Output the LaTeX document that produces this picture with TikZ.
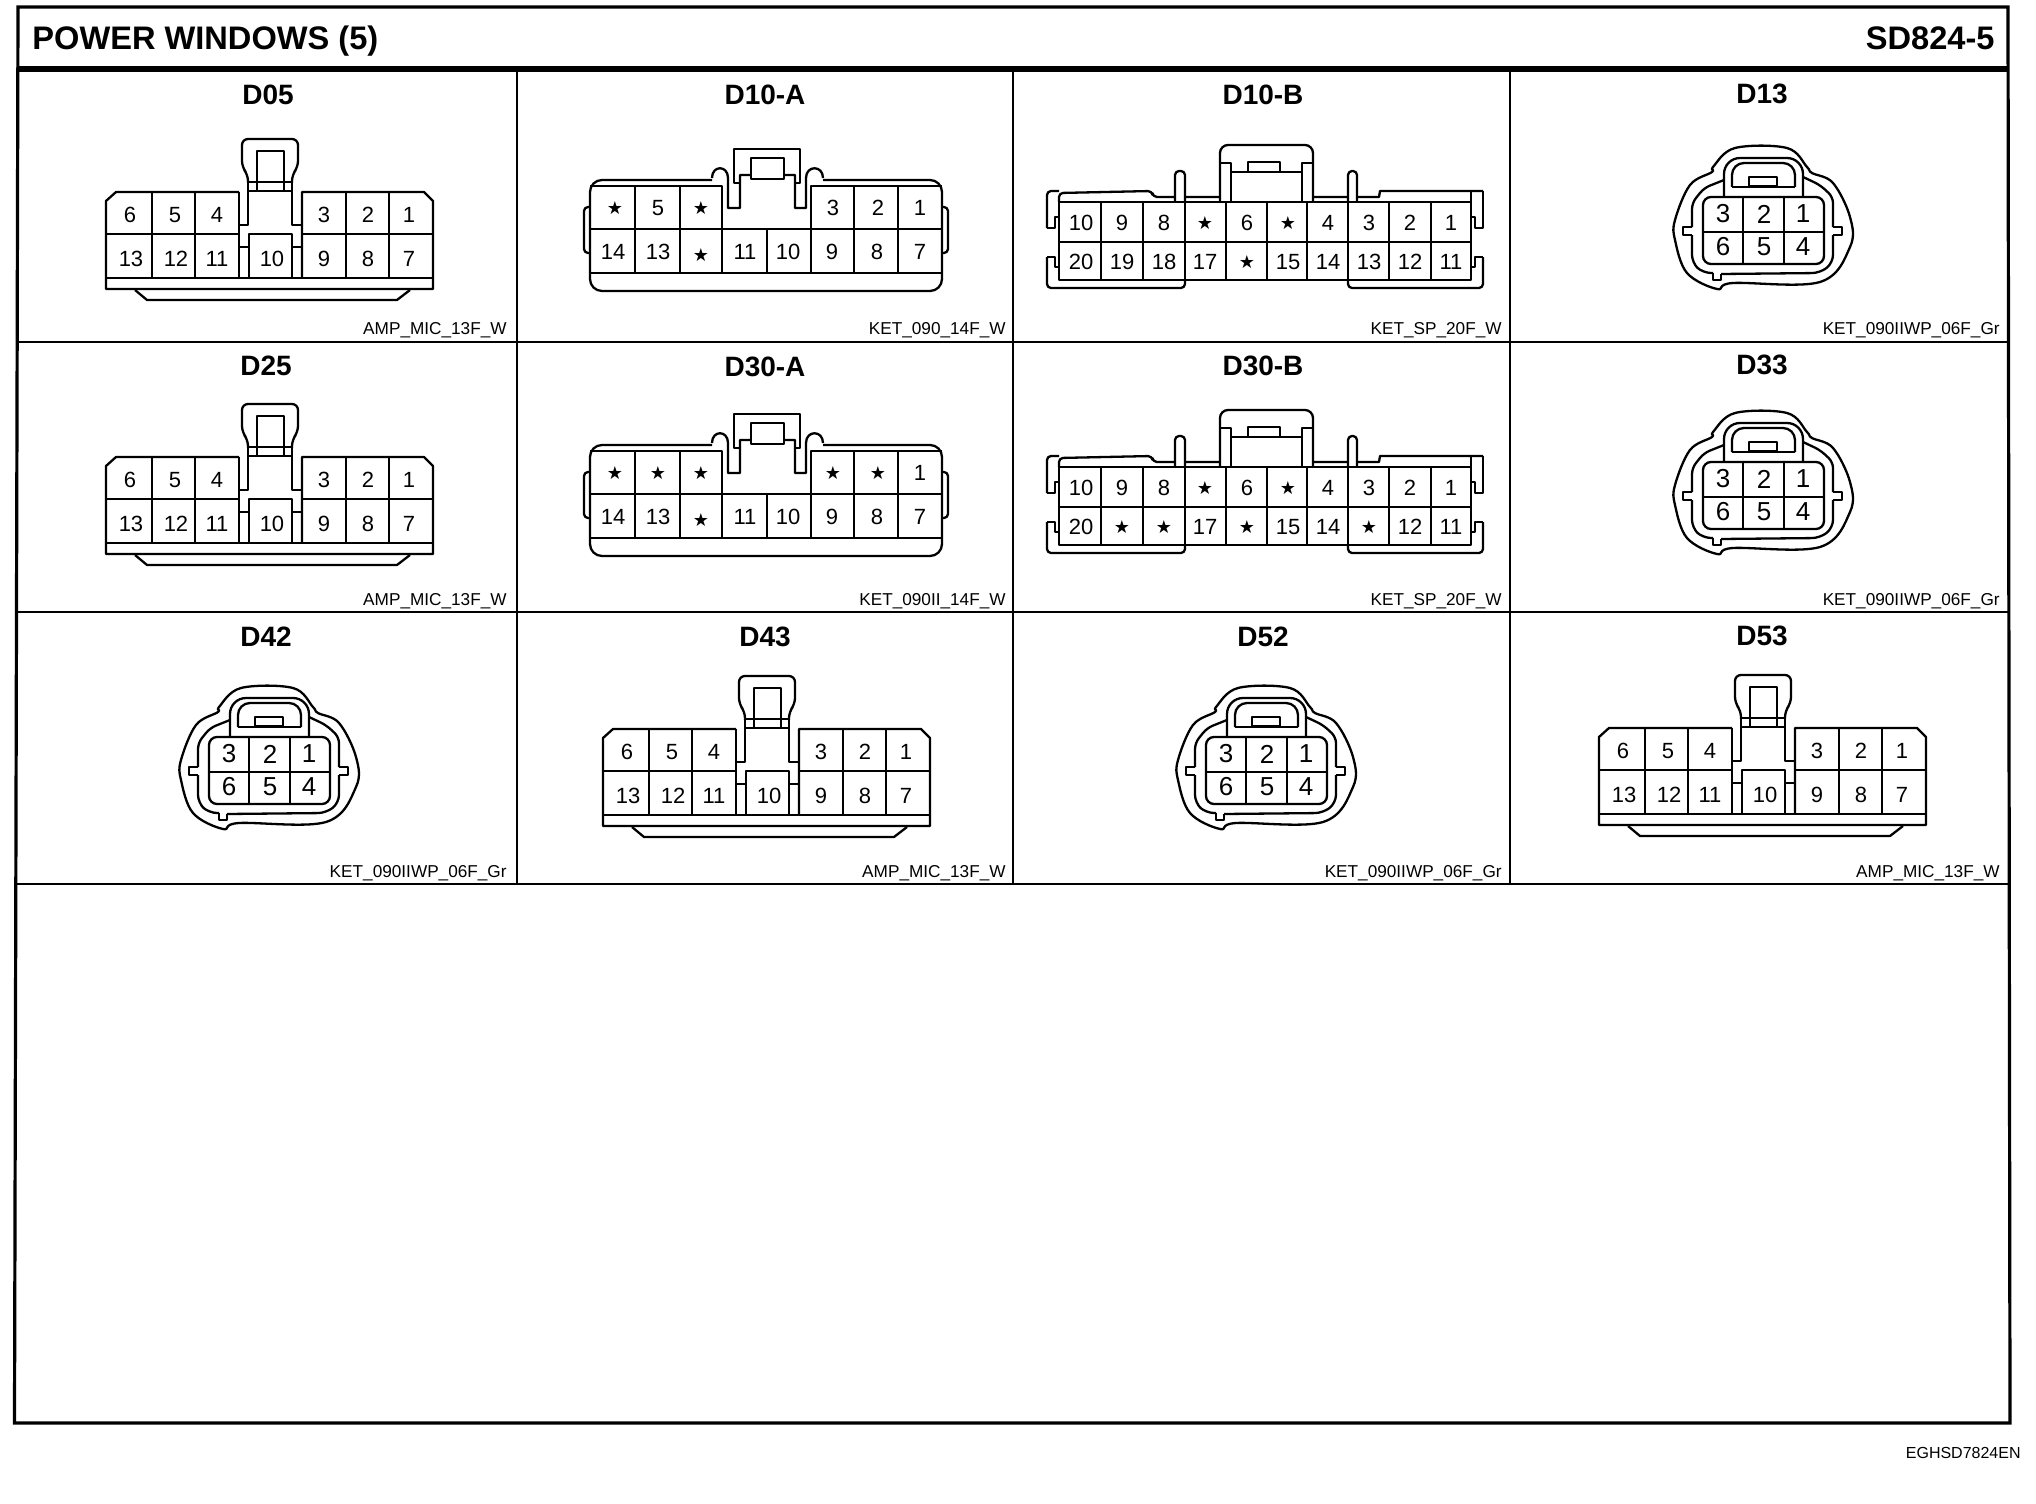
\documentclass[tikz,border=0pt]{standalone}
\usepackage{fontspec}
\setmainfont{Liberation Sans}
\newfontfamily\starfont{DejaVu Sans}
\usetikzlibrary{positioning}

\tikzset{
  frameline/.style={line width=1.6pt},
  gridline/.style={line width=1.3pt},
  conn/.style={line width=1.15pt, line join=round},
  sheettitle/.style={font=\bfseries\fontsize{16.3}{18}\selectfont, inner sep=0pt},
  conntitle/.style={font=\bfseries\fontsize{14}{16}\selectfont, inner sep=0pt},
  partlabel/.style={font=\fontsize{8.6}{10}\selectfont, inner sep=0pt, anchor=base east},
  pinlabel/.style={font=\fontsize{11}{13}\selectfont, inner sep=0pt},
  bigpin/.style={font=\fontsize{13}{15}\selectfont, inner sep=0pt},
}
\newcommand{\st}{{\starfont\fontsize{9}{10}\selectfont ★}}

% pin positions, x/y/label
\def\pinsAmp{130/215/6,175/215/5,217/215/4,324/215/3,368/215/2,409/215/1,131/259/13,176/259/12,217/259/11,272/259/10,324/259/9,368/259/8,409/259/7}
\def\pinsKetA{615/208/\st,658/208/5,701/208/\st,833/208/3,878/208/2,920/208/1,613/252/14,658/252/13,701/255/\st,745/252/11,788/252/10,832/252/9,877/252/8,920/252/7}
\def\pinsKetAs{615/208/\st,658/208/\st,701/208/\st,833/208/\st,878/208/\st,920/208/1,613/252/14,658/252/13,701/255/\st,745/252/11,788/252/10,832/252/9,877/252/8,920/252/7}
\def\pinsKetB{1081/223/10,1122/223/9,1164/223/8,1205/223/\st,1247/223/6,1288/223/\st,1328/223/4,1369/223/3,1410/223/2,1451/223/1,1081/262/20,1122/262/19,1164/262/18,1205/262/17,1247/262/\st,1288/262/15,1328/262/14,1369/262/13,1410/262/12,1451/262/11}
\def\pinsKetBs{1081/223/10,1122/223/9,1164/223/8,1205/223/\st,1247/223/6,1288/223/\st,1328/223/4,1369/223/3,1410/223/2,1451/223/1,1081/262/20,1122/262/\st,1164/262/\st,1205/262/17,1247/262/\st,1288/262/15,1328/262/14,1369/262/\st,1410/262/12,1451/262/11}
\def\pinsWp{1723/214/3,1764/214/2,1803/214/1,1723/247/6,1764/247/5,1803/247/4}

% AMP_MIC 13 pin housing
\newcommand{\ampbody}{
  \draw[conn] (239,192) -- (116,192) -- (106,201) -- (106,289) -- (433,289) -- (433,201) -- (424,192) -- (302,192) -- (302,278);
  \draw[conn] (106,234) -- (239,234) (302,234) -- (433,234) (106,278) -- (433,278);
  \foreach \cx in {152,195,239,346,389} \draw[conn] (\cx,192) -- (\cx,278);
  \draw[conn] (135,290) -- (147,300) -- (397,300) -- (410,290);
  \draw[conn] (249,278) -- (249,234) -- (292,234) -- (292,278);
  \draw[conn] (239,247) -- (249,247) (292,247) -- (302,247);
  \draw[conn] (248,183) -- (248,225) -- (239,225) (292,183) -- (292,225) -- (302,225);
  \draw[conn, rounded corners=3pt] (248,183) -- (248,175) -- (242,167) -- (242,139) -- (298,139) -- (298,167) -- (292,175) -- (292,183);
  \draw[conn] (257,190) -- (257,151) -- (284,151) -- (284,190);
  \draw[conn] (248,182) -- (292,182) (248,191) -- (292,191);
}
% KET 14 pin housing
\newcommand{\ketabody}{
  \draw[conn, rounded corners=6pt] (712,180) -- (590,180) -- (590,291) -- (942,291) -- (942,180) -- (823,180);
  \draw[conn] (590,186) -- (722,186) -- (722,273) (811,273) -- (811,186) -- (942,186);
  \draw[conn] (590,229) -- (942,229) (590,273) -- (942,273);
  \foreach \cx in {635,680,854,898} \draw[conn] (\cx,186) -- (\cx,273);
  \draw[conn] (767,229) -- (767,273);
  \draw[conn] (712,178) .. controls (712,165) and (728,165) .. (728,178) -- (728,208) -- (740,208) -- (740,175) -- (795,175) -- (795,208) -- (806,208) -- (806,178) .. controls (806,165) and (823,165) .. (823,178);
  \draw[conn] (740,183) -- (734,183) -- (734,149) -- (800,149) -- (800,183) -- (795,183);
  \draw[conn, fill=white] (751,158) rectangle (784,179);
  \draw[conn, rounded corners=2pt] (590,207) -- (584,207) -- (584,253) -- (590,253);
  \draw[conn, rounded corners=2pt] (942,207) -- (948,207) -- (948,253) -- (942,253);
}
% KET 20 pin housing
\newcommand{\ketbbody}{
  \draw[conn] (1059,202) rectangle (1471,280) (1059,242) -- (1471,242);
  \foreach \cx in {1101,1143,1185,1226,1267,1307,1348,1389,1431} \draw[conn] (\cx,202) -- (\cx,280);
  \draw[conn, rounded corners=2pt] (1047,228) -- (1047,191) -- (1059,191) (1059,202) -- (1059,193) -- (1152,191) -- (1153,197) -- (1175,197);
  \draw[conn, rounded corners=2pt] (1175,202) -- (1175,171) -- (1185,171) -- (1185,202);
  \draw[conn] (1185,197) -- (1220,197) (1313,197) -- (1348,197) (1357,197) -- (1379,197) -- (1380,191) -- (1483,191);
  \draw[conn, rounded corners=4pt] (1220,202) -- (1220,145) -- (1313,145) -- (1313,202);
  \draw[conn] (1220,163) -- (1231,163) -- (1231,202) (1313,163) -- (1302,163) -- (1302,202);
  \draw[conn] (1231,172) -- (1302,172) (1248,172) -- (1248,162) -- (1280,162) -- (1280,172);
  \draw[conn, rounded corners=2pt] (1348,202) -- (1348,171) -- (1357,171) -- (1357,202);
  \draw[conn] (1471,191) -- (1471,202);
  \draw[conn] (1047,228) -- (1055,228) -- (1055,217) -- (1059,217) (1047,257) -- (1055,257) -- (1055,267) -- (1059,267);
  \draw[conn] (1483,191) -- (1483,228) -- (1475,228) -- (1475,217) -- (1471,217) (1483,257) -- (1475,257) -- (1475,267) -- (1471,267);
  \draw[conn, rounded corners=2pt] (1047,257) -- (1047,288) -- (1185,288) -- (1185,280);
  \draw[conn, rounded corners=2pt] (1483,257) -- (1483,288) -- (1348,288) -- (1348,280);
}
% KET waterproof 6 pin housing
\newcommand{\wpbody}{
  \draw[conn] plot[smooth cycle, tension=0.6] coordinates {(1735,148) (1787,148) (1807,167) (1812,173) (1833,183) (1850,217) (1850,247) (1820,282) (1733,283) (1717,289) (1687,273) (1675,240) (1675,220) (1690,185) (1712,172) (1713,167)};
  \draw[conn, rounded corners=8pt] (1724,197) -- (1724,158) -- (1803,158) -- (1803,197);
  \draw[conn, rounded corners=3pt] (1724,180) -- (1704,188) -- (1692,203) -- (1692,227);
  \draw[conn] (1692,227) -- (1683,227) -- (1683,235) -- (1692,235);
  \draw[conn, rounded corners=4pt] (1692,235) -- (1692,263) -- (1703,273) -- (1713,273);
  \draw[conn] (1713,273) -- (1713,280) -- (1721,280) -- (1721,274);
  \draw[conn, rounded corners=4pt] (1721,274) -- (1820,273) -- (1833,263) -- (1833,235);
  \draw[conn] (1833,235) -- (1842,235) -- (1842,227) -- (1833,227);
  \draw[conn, rounded corners=3pt] (1833,227) -- (1833,197) -- (1820,185) -- (1803,177);
  \draw[conn, rounded corners=6pt] (1732,187) -- (1732,163) -- (1795,163) -- (1795,187);
  \draw[conn] (1732,187) -- (1795,187) (1749,186) rectangle (1777,177);
  \draw[conn, rounded corners=4pt] (1703,197) rectangle (1824,264);
  \draw[conn] (1743,197) -- (1743,264) (1784,197) -- (1784,264) (1703,232) -- (1824,232);
}
% body macro, shift x, shift y, name, pin style, pin list
\newcommand{\connector}[6]{
  \begin{scope}[shift={(#2,#3)}]
    #1
    \foreach \px/\py/\ptext [count=\pnum] in #6
      \node[#5] (#4-\pnum) at (\px,\py) {\ptext};
  \end{scope}
}

\begin{document}
\begin{tikzpicture}[x=0.5pt, y=-0.5pt]
  \useasboundingbox (0,0) rectangle (2036,1504);

  % sheet frame
  \coordinate (frameNW) at (18,7);
  \coordinate (frameNE) at (2008,7);
  \coordinate (frameSE) at (2010,1423);
  \coordinate (frameSW) at (14.5,1423);
  \draw[frameline] (frameNW) -- (frameNE) -- (frameSE) -- (frameSW) -- cycle;
  \draw[line width=3.2pt] (18,69) -- (2008,69);
  \foreach \ry/\rl in {342/17.5,612/16.5,884/16}
    \draw[gridline] (\rl,\ry) -- (2009,\ry);
  \foreach \cx in {517,1013,1510}
    \draw[gridline] (\cx,69) -- (\cx,884);

  \node[sheettitle, anchor=base west] (title) at (32,50) {POWER WINDOWS (5)};
  \node[sheettitle, anchor=base east] (sheetno) at (1995,50) {SD824-5};
  \node[font=\fontsize{8}{10}\selectfont, inner sep=0pt, anchor=base east] (code) at (2021,1458) {EGHSD7824EN};

  % connector titles
  \node[conntitle] (d05) at (268,95) {D05};
  \node[conntitle] (d10a) at (765,95) {D10-A};
  \node[conntitle] (d10b) at (1263,95) {D10-B};
  \node[conntitle] (d13) at (1762,94) {D13};
  \node[conntitle] (d25) at (266,366) {D25};
  \node[conntitle] (d30a) at (765,367) {D30-A};
  \node[conntitle] (d30b) at (1263,366) {D30-B};
  \node[conntitle] (d33) at (1762,365) {D33};
  \node[conntitle] (d42) at (266,637) {D42};
  \node[conntitle] (d43) at (765,637) {D43};
  \node[conntitle] (d52) at (1263,637) {D52};
  \node[conntitle] (d53) at (1762,636) {D53};

  % part numbers
  \node[partlabel] (p05) at (507,334) {AMP\_MIC\_13F\_W};
  \node[partlabel] (p10a) at (1006,334) {KET\_090\_14F\_W};
  \node[partlabel] (p10b) at (1502,334) {KET\_SP\_20F\_W};
  \node[partlabel] (p13) at (2000,334) {KET\_090IIWP\_06F\_Gr};
  \node[partlabel] (p25) at (507,605) {AMP\_MIC\_13F\_W};
  \node[partlabel] (p30a) at (1006,605) {KET\_090II\_14F\_W};
  \node[partlabel] (p30b) at (1502,605) {KET\_SP\_20F\_W};
  \node[partlabel] (p33) at (2000,605) {KET\_090IIWP\_06F\_Gr};
  \node[partlabel] (p42) at (507,877) {KET\_090IIWP\_06F\_Gr};
  \node[partlabel] (p43) at (1006,877) {AMP\_MIC\_13F\_W};
  \node[partlabel] (p52) at (1502,877) {KET\_090IIWP\_06F\_Gr};
  \node[partlabel] (p53) at (2000,877) {AMP\_MIC\_13F\_W};

  % connectors
  \connector{\ampbody}{0}{0}{c05}{pinlabel}{\pinsAmp}
  \connector{\ketabody}{0}{0}{c10a}{pinlabel}{\pinsKetA}
  \connector{\ketbbody}{0}{0}{c10b}{pinlabel}{\pinsKetB}
  \connector{\wpbody}{0}{0}{c13}{bigpin}{\pinsWp}
  \connector{\ampbody}{0}{265}{c25}{pinlabel}{\pinsAmp}
  \connector{\ketabody}{0}{265}{c30a}{pinlabel}{\pinsKetAs}
  \connector{\ketbbody}{0}{265}{c30b}{pinlabel}{\pinsKetBs}
  \connector{\wpbody}{0}{265}{c33}{bigpin}{\pinsWp}
  \connector{\wpbody}{-1494}{540}{c42}{bigpin}{\pinsWp}
  \connector{\ampbody}{497}{537}{c43}{pinlabel}{\pinsAmp}
  \connector{\wpbody}{-497}{540}{c52}{bigpin}{\pinsWp}
  \connector{\ampbody}{1493}{536}{c53}{pinlabel}{\pinsAmp}
\end{tikzpicture}
\end{document}
